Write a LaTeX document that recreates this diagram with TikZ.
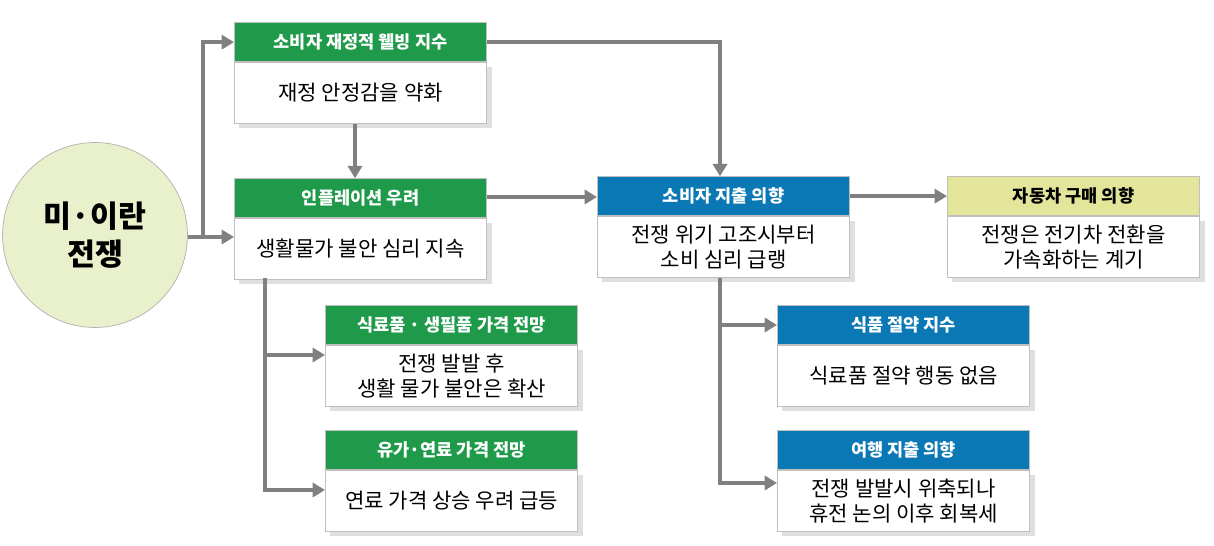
\documentclass[tikz,border=0pt]{standalone}
\usepackage{fontspec}
\setmainfont{Noto Sans CJK KR}
\usetikzlibrary{positioning,arrows.meta,shadows}
\definecolor{HDgreen}{HTML}{1E9A4A}
\definecolor{HDblue}{HTML}{0A78B4}
\definecolor{HDyellow}{HTML}{E3E69A}
\definecolor{WARcircle}{HTML}{E8F0CC}
\tikzstyle{box}=[rectangle, draw=black!25, minimum width=5.05cm, inner sep=0pt, align=center, font=\large]
\tikzstyle{head}=[box, minimum height=0.78cm, text=white, font=\bfseries]
\tikzstyle{body}=[box, fill=white, minimum height=1.22cm, drop shadow={opacity=0.25}]
\tikzstyle{G}=[head, fill=HDgreen]
\tikzstyle{B}=[head, fill=HDblue]
\tikzstyle{Y}=[head, fill=HDyellow, text=black]
\tikzstyle{link}=[draw=black!50, line width=2.2pt, -{Triangle[length=7pt,width=8pt]}]
\begin{document}
\begin{tikzpicture}[x=0.02cm, y=-0.02cm]
      \useasboundingbox (0,0) rectangle (1214,546);
      \node[circle, draw=black!30, fill=WARcircle, minimum size=3.7cm, align=center, font=\LARGE\bfseries] (WAR) at (95,235) {미·이란\\전쟁};

      % left column
      \node[body, anchor=north west] (B1) at (234,62) {재정 안정감을 약화};
      \node[G, above=0cm of B1] (H1) {소비자 재정적 웰빙 지수};
      \node[body, anchor=north west] (B2) at (234,218) {생활물가 불안 심리 지속};
      \node[G, above=0cm of B2] (H2) {인플레이션 우려};

      % sub column
      \node[body, anchor=north west] (B5) at (325,345) {전쟁 발발 후\\생활 물가 불안은 확산};
      \node[G, above=0cm of B5] (H5) {식료품 · 생필품 가격 전망};
      \node[body, anchor=north west] (B6) at (325,470) {연료 가격 상승 우려 급등};
      \node[G, above=0cm of B6] (H6) {유가·연료 가격 전망};

      % middle
      \node[body, anchor=north west] (B3) at (597,216) {전쟁 위기 고조시부터\\소비 심리 급랭};
      \node[B, above=0cm of B3] (H3) {소비자 지출 의향};
      \node[body, anchor=north west] (B4) at (947,216) {전쟁은 전기차 전환을\\가속화하는 계기};
      \node[Y, above=0cm of B4] (H4) {자동차 구매 의향};
      \node[body, anchor=north west] (B7) at (777,345) {식료품 절약 행동 없음};
      \node[B, above=0cm of B7] (H7) {식품 절약 지수};
      \node[body, anchor=north west] (B8) at (777,470) {전쟁 발발시 위축되나\\휴전 논의 이후 회복세};
      \node[B, above=0cm of B8] (H8) {여행 지출 의향};

      % connectors
      \coordinate (J1) at (203,237);
      \draw[link, -] (WAR.east |- J1) -- (J1);
      \draw[link] (J1) |- (H1.west);
      \draw[link] (J1) -- (B2.west |- J1);
      \draw[link] (B1.south -| 355,0) -- (H2.north -| 355,0);
      \draw[link] (H1.east) -| (H3.north -| 720,0);
      \draw[link] (H2.east |- 0,197) -- (H3.west |- 0,197);
      \draw[link] (H3.east) -- (H4.west);
      \coordinate (J2) at (265,278);
      \draw[link] (J2) |- (B5.west |- 0,355);
      \draw[link] (J2) |- (B6.west |- 0,490);
      \coordinate (J3) at (720,278);
      \draw[link] (J3) |- (H7.west |- 0,325);
      \draw[link] (J3) |- (B8.west |- 0,483);
\end{tikzpicture}
\end{document}
